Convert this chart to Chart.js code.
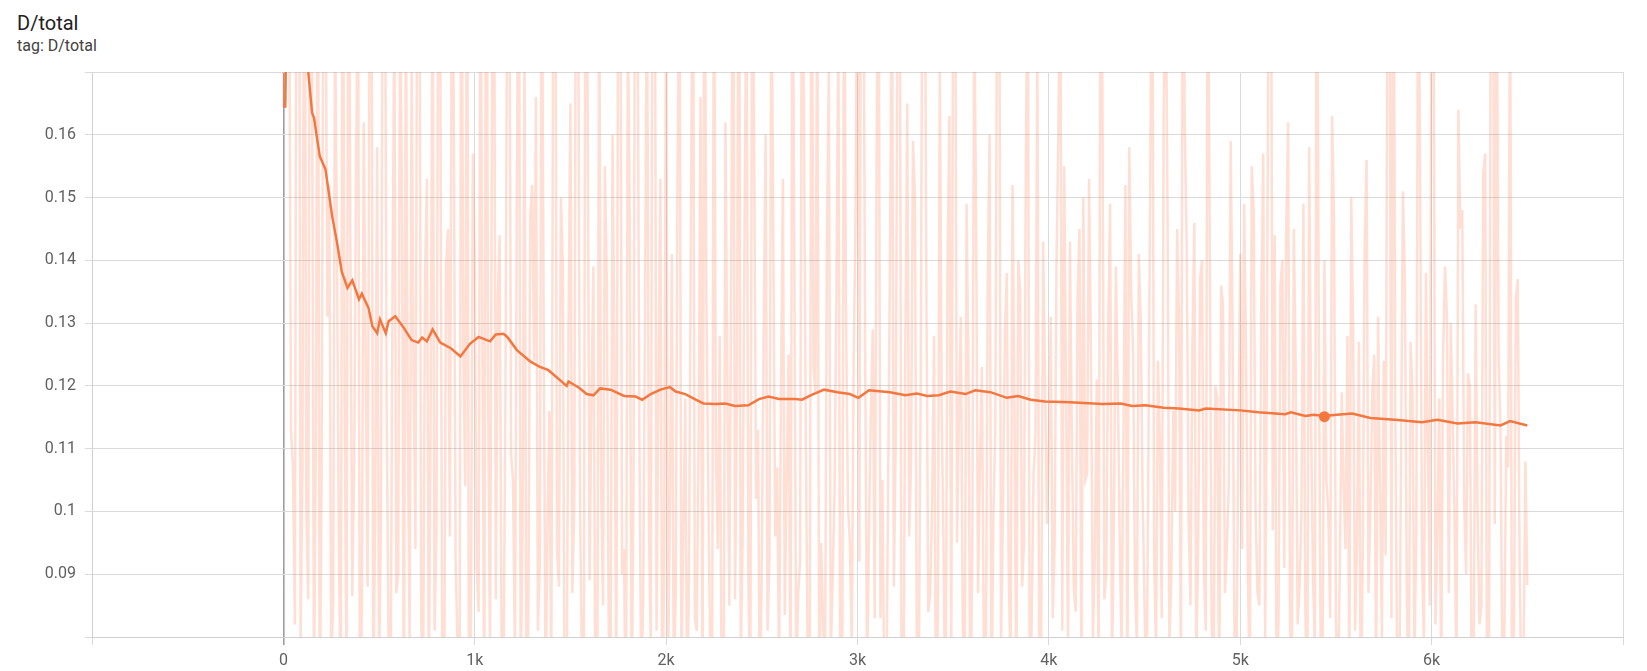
<!DOCTYPE html>
<html>
<head>
<meta charset="utf-8">
<title>D/total</title>
<script src="https://cdn.jsdelivr.net/npm/chart.js@4.4.1/dist/chart.umd.min.js"></script>
<style>
    html, body { margin: 0; padding: 0; background: #fff; }
    #wrap { position: relative; width: 1647px; height: 671px; font-family: Roboto, "Noto Sans", sans-serif; }
    #titulo { position: absolute; left: 17px; top: 13px; font-size: 20px; line-height: 20px; color: #212121; }
    #tag { position: absolute; left: 17px; top: 38px; font-size: 16px; line-height: 16px; color: #424242; }
    #grafica { position: absolute; left: 0; top: 0; }
</style>
</head>
<body>
<div id="wrap">
    <div id="titulo">D/total</div>
    <div id="tag">tag: D/total</div>
    <canvas id="grafica" width="1647" height="671"></canvas>
</div>
<script>
// Datos crudos: valores en los pasos 0, 20, 40 ... 6500
const pasoCrudo = 20;
const valoresCrudos = [
    // 0 - 980
    0.1645, 0.26, 0.113, 0.082, 0.25, 0.1075, 0.100, 0.23, 0.072, 0.21,
    0.1075, 0.19, 0.152, 0.0855, 0.142, 0.068, 0.119, 0.22, 0.0865, 0.154,
    0.065, 0.162, 0.088, 0.20, 0.102, 0.074, 0.21, 0.115, 0.069, 0.18,
    0.09, 0.148, 0.184, 0.078, 0.123, 0.199, 0.083, 0.137, 0.071, 0.192,
    0.097, 0.176, 0.066, 0.145, 0.188, 0.092, 0.061, 0.127, 0.205, 0.081,
    // 1000 - 1980
    0.14, 0.084, 0.125, 0.23, 0.077, 0.21, 0.134, 0.079, 0.117, 0.196,
    0.105, 0.151, 0.072, 0.176, 0.083, 0.152, 0.166, 0.092, 0.1305, 0.097,
    0.073, 0.21, 0.088, 0.139, 0.068, 0.165, 0.101, 0.19, 0.076, 0.22,
    0.089, 0.139, 0.062, 0.106, 0.155, 0.081, 0.16, 0.071, 0.2, 0.094,
    0.18, 0.066, 0.23, 0.112, 0.085, 0.19, 0.078, 0.21, 0.121, 0.064,
    // 2000 - 2980
    0.19, 0.101, 0.072, 0.156, 0.075, 0.118, 0.093, 0.2, 0.081, 0.166,
    0.21, 0.104, 0.069, 0.11, 0.128, 0.064, 0.121, 0.137, 0.086, 0.22,
    0.097, 0.19, 0.071, 0.158, 0.113, 0.092, 0.16, 0.0925, 0.143, 0.107,
    0.118, 0.0835, 0.125, 0.2, 0.072, 0.092, 0.164, 0.075, 0.21, 0.119,
    0.068, 0.083, 0.142, 0.077, 0.103, 0.178, 0.066, 0.132, 0.095, 0.124,
    // 3000 - 3980
    0.2, 0.23, 0.125, 0.097, 0.129, 0.157, 0.083, 0.071, 0.104, 0.19,
    0.112, 0.21, 0.066, 0.165, 0.108, 0.15, 0.073, 0.2, 0.134, 0.087,
    0.128, 0.083, 0.116, 0.062, 0.163, 0.19, 0.095, 0.131, 0.069, 0.122,
    0.095, 0.145, 0.108, 0.079, 0.134, 0.067, 0.113, 0.2, 0.1, 0.138,
    0.074, 0.117, 0.14, 0.088, 0.158, 0.068, 0.106, 0.175, 0.079, 0.121,
    // 4000 - 4980
    0.11, 0.083, 0.14, 0.19, 0.155, 0.077, 0.112, 0.084, 0.145, 0.15,
    0.106, 0.125, 0.093, 0.072, 0.166, 0.09, 0.149, 0.1, 0.12, 0.078,
    0.152, 0.158, 0.126, 0.079, 0.13, 0.085, 0.109, 0.2, 0.077, 0.111,
    0.164, 0.148, 0.09, 0.1, 0.131, 0.21, 0.143, 0.085, 0.146, 0.094,
    0.14, 0.081, 0.147, 0.069, 0.118, 0.136, 0.087, 0.104, 0.128, 0.073,
    // 5000 - 5980
    0.141, 0.149, 0.09, 0.155, 0.1, 0.085, 0.157, 0.129, 0.2, 0.144,
    0.083, 0.14, 0.144, 0.082, 0.145, 0.082, 0.1, 0.085, 0.158, 0.09,
    0.21, 0.078, 0.14, 0.1, 0.163, 0.083, 0.09, 0.104, 0.128, 0.15,
    0.081, 0.127, 0.093, 0.156, 0.1, 0.125, 0.131, 0.08, 0.093, 0.19,
    0.22, 0.074, 0.108, 0.137, 0.066, 0.119, 0.097, 0.152, 0.079, 0.112,
    // 6000 - 6500
    0.2, 0.082, 0.118, 0.125, 0.131, 0.13, 0.098, 0.164, 0.148, 0.09,
    0.12, 0.078, 0.1, 0.085, 0.157, 0.076, 0.21, 0.19, 0.113, 0.079,
    0.107, 0.066, 0.134, 0.091, 0.074, 0.0883
];

// Valores crudos intermedios: pasos 10, 30, 50 ... 6490
const valoresIntermedios = [
    // 10 - 990
    0.24, 0.19, 0.107, 0.22, 0.079, 0.23, 0.086, 0.17, 0.112, 0.064,
    0.2, 0.131, 0.075, 0.18, 0.095, 0.21, 0.071, 0.143, 0.108, 0.19,
    0.083, 0.125, 0.178, 0.067, 0.158, 0.099, 0.2, 0.078, 0.134, 0.087,
    0.186, 0.063, 0.115, 0.171, 0.094, 0.21, 0.07, 0.153, 0.119, 0.081,
    0.2, 0.073, 0.139, 0.096, 0.167, 0.079, 0.21, 0.104, 0.065, 0.157,
    // 1010 - 1990
    0.091, 0.2, 0.068, 0.118, 0.163, 0.086, 0.144, 0.072, 0.19, 0.109,
    0.077, 0.21, 0.098, 0.065, 0.147, 0.124, 0.081, 0.2, 0.071, 0.116,
    0.182, 0.094, 0.15, 0.063, 0.129, 0.087, 0.21, 0.101, 0.074, 0.165,
    0.119, 0.069, 0.19, 0.085, 0.137, 0.076, 0.124, 0.2, 0.09, 0.061,
    0.146, 0.107, 0.19, 0.072, 0.133, 0.099, 0.22, 0.081, 0.153, 0.093,
    // 2010 - 2990
    0.074, 0.141, 0.087, 0.19, 0.097, 0.066, 0.149, 0.083, 0.112, 0.064,
    0.135, 0.078, 0.2, 0.094, 0.071, 0.162, 0.085, 0.21, 0.118, 0.076,
    0.146, 0.088, 0.2, 0.102, 0.067, 0.13, 0.081, 0.19, 0.096, 0.074,
    0.153, 0.106, 0.069, 0.14, 0.087, 0.2, 0.111, 0.066, 0.123, 0.19,
    0.095, 0.072, 0.171, 0.089, 0.136, 0.068, 0.2, 0.101, 0.078, 0.148,
    // 3010 - 3990
    0.092, 0.2, 0.073, 0.116, 0.083, 0.2, 0.105, 0.067, 0.141, 0.088,
    0.19, 0.071, 0.127, 0.096, 0.159, 0.078, 0.119, 0.21, 0.084, 0.101,
    0.069, 0.172, 0.093, 0.137, 0.076, 0.2, 0.115, 0.082, 0.149, 0.064,
    0.183, 0.087, 0.123, 0.071, 0.16, 0.099, 0.19, 0.079, 0.128, 0.091,
    0.152, 0.069, 0.135, 0.095, 0.19, 0.082, 0.112, 0.067, 0.143, 0.098,
    // 4010 - 4990
    0.131, 0.095, 0.161, 0.081, 0.119, 0.143, 0.088, 0.134, 0.071, 0.105,
    0.153, 0.08, 0.121, 0.2, 0.086, 0.129, 0.074, 0.139, 0.096, 0.113,
    0.07, 0.135, 0.088, 0.141, 0.102, 0.067, 0.155, 0.093, 0.124, 0.083,
    0.19, 0.079, 0.116, 0.145, 0.072, 0.161, 0.099, 0.126, 0.075, 0.137,
    0.091, 0.2, 0.084, 0.12, 0.066, 0.133, 0.094, 0.159, 0.08, 0.112,
    // 5010 - 5990
    0.094, 0.126, 0.071, 0.148, 0.087, 0.133, 0.078, 0.2, 0.097, 0.069,
    0.136, 0.091, 0.162, 0.074, 0.123, 0.088, 0.149, 0.066, 0.115, 0.078,
    0.132, 0.072, 0.105, 0.083, 0.146, 0.07, 0.119, 0.094, 0.073, 0.128,
    0.095, 0.067, 0.142, 0.087, 0.119, 0.071, 0.104, 0.124, 0.2, 0.083,
    0.117, 0.065, 0.151, 0.089, 0.127, 0.076, 0.2, 0.092, 0.138, 0.085,
    // 6010 - 6490
    0.19, 0.096, 0.071, 0.139, 0.087, 0.115, 0.073, 0.145, 0.102, 0.122,
    0.068, 0.133, 0.082, 0.154, 0.066, 0.2, 0.098, 0.125, 0.074, 0.112,
    0.19, 0.079, 0.137, 0.069, 0.108
];

// Curva suavizada
const pasosSuaves = [
    0, 10, 20, 60, 100, 130, 150, 160, 190, 220,
    255, 280, 305, 335, 360, 395, 410, 445, 465, 490,
    505, 535, 550, 585, 630, 670, 705, 725, 750, 780,
    820, 875, 925, 975, 1020, 1080, 1110, 1150, 1170, 1220,
    1290, 1335, 1385, 1450, 1480, 1490, 1545, 1585, 1620, 1655,
    1710, 1780, 1840, 1875, 1920, 1970, 2020, 2050, 2100, 2155,
    2195, 2260, 2310, 2360, 2430, 2485, 2535, 2590, 2675, 2710,
    2755, 2825, 2895, 2960, 3005, 3060, 3170, 3250, 3310, 3365,
    3425, 3485, 3565, 3615, 3695, 3780, 3840, 3905, 3980, 4110,
    4280, 4375, 4435, 4505, 4600, 4680, 4785, 4820, 5000, 5095,
    5235, 5265, 5340, 5385, 5440, 5505, 5585, 5680, 5810, 5950,
    6030, 6135, 6230, 6360, 6410, 6500
];
const valoresSuaves = [
    0.1645, 0.1645, 0.19, 0.195, 0.185, 0.17, 0.1635, 0.1627, 0.1566, 0.1545,
    0.147, 0.1429, 0.1382, 0.1356, 0.1368, 0.1338, 0.1347, 0.1324, 0.1295, 0.1284,
    0.1306, 0.1284, 0.1303, 0.1311, 0.1292, 0.1273, 0.1269, 0.1277, 0.1271, 0.129,
    0.1269, 0.126, 0.1247, 0.1267, 0.1278, 0.1271, 0.1282, 0.1283, 0.1278, 0.1257,
    0.1239, 0.1231, 0.1225, 0.1208, 0.12, 0.1207, 0.1197, 0.1187, 0.1185, 0.1196,
    0.1194, 0.1184, 0.1183, 0.1178, 0.1187, 0.1194, 0.1198, 0.1191, 0.1187, 0.1178,
    0.1172, 0.1171, 0.1172, 0.1168, 0.1169, 0.1179, 0.1183, 0.1179, 0.1179, 0.1178,
    0.1185, 0.1194, 0.119, 0.1187, 0.1181, 0.1193, 0.119, 0.1185, 0.1188, 0.1184,
    0.1185, 0.1191, 0.1187, 0.1193, 0.119, 0.1181, 0.1184, 0.1178, 0.1175, 0.1174,
    0.1171, 0.1172, 0.1168, 0.1169, 0.1165, 0.1164, 0.1161, 0.1164, 0.1161, 0.1158,
    0.1155, 0.1158, 0.1152, 0.1154, 0.1152, 0.1154, 0.1156, 0.1149, 0.1146, 0.1142,
    0.1146, 0.114, 0.1142, 0.1137, 0.1144, 0.1137
];

// Punto resaltado
const pasoMarcado = [5440];
const valorMarcado = [0.1151];

// Ejes
const ejeX = { min: -1000, max: 7000, paso: 1000 };
const ejeY = { min: 0.08, max: 0.17, paso: 0.01 };

// Unir las dos listas de crudos en orden de paso
const datosCrudos = [];
valoresCrudos.forEach((v, i) => {
    datosCrudos.push({ x: i * pasoCrudo, y: v });
    if (i < valoresIntermedios.length) {
        datosCrudos.push({ x: i * pasoCrudo + pasoCrudo / 2, y: valoresIntermedios[i] });
    }
});
const datosSuaves = pasosSuaves.map((s, i) => ({ x: s, y: valoresSuaves[i] }));
const datosMarca = pasoMarcado.map((s, i) => ({ x: s, y: valorMarcado[i] }));

const naranja = '#f4773f';
const fuenteEjes = { family: 'Roboto', size: 16 };

const ctx = document.getElementById('grafica').getContext('2d');
new Chart(ctx, {
    type: 'line',
    data: {
        datasets: [
            {
                label: 'marca',
                data: datosMarca,
                showLine: false,
                pointRadius: 5.5,
                pointBackgroundColor: naranja,
                pointBorderWidth: 0,
                clip: 0
            },
            {
                label: 'suavizado',
                data: datosSuaves,
                borderColor: naranja,
                borderWidth: 2.5,
                pointRadius: 0,
                tension: 0,
                clip: 0
            },
            {
                label: 'crudo',
                data: datosCrudos,
                borderColor: 'rgba(255, 112, 67, 0.23)',
                borderWidth: 2.5,
                pointRadius: 0,
                tension: 0,
                clip: 0
            }
        ]
    },
    options: {
        responsive: false,
        animation: false,
        devicePixelRatio: 1,
        layout: { padding: { top: 72, right: 24, left: 0, bottom: 0 } },
        plugins: {
            legend: { display: false },
            tooltip: { enabled: false }
        },
        scales: {
            x: {
                type: 'linear',
                min: ejeX.min,
                max: ejeX.max,
                afterFit: function (escala) { escala.height = 34; },
                ticks: {
                    stepSize: ejeX.paso,
                    padding: 6,
                    maxRotation: 0,
                    color: '#616161',
                    font: fuenteEjes,
                    callback: function (v) {
                        if (v <= ejeX.min || v >= ejeX.max) return '';
                        return v === 0 ? '0' : (v / 1000) + 'k';
                    }
                },
                grid: {
                    color: function (c) { return c.tick && c.tick.value === 0 ? '#9e9e9e' : '#dadada'; },
                    lineWidth: function (c) { return c.tick && c.tick.value === 0 ? 1.6 : 1; },
                    tickLength: 8
                },
                border: { color: '#d0d0d0' }
            },
            y: {
                min: ejeY.min,
                max: ejeY.max,
                afterFit: function (escala) { escala.width = 92; },
                ticks: {
                    stepSize: ejeY.paso,
                    padding: 9,
                    color: '#616161',
                    font: fuenteEjes,
                    callback: function (v) {
                        const r = parseFloat(v.toFixed(2));
                        if (r <= ejeY.min || r >= ejeY.max) return '';
                        return String(r);
                    }
                },
                grid: { color: '#dadada', tickLength: 7 },
                border: { color: '#d0d0d0' }
            }
        }
    }
});
</script>
</body>
</html>
